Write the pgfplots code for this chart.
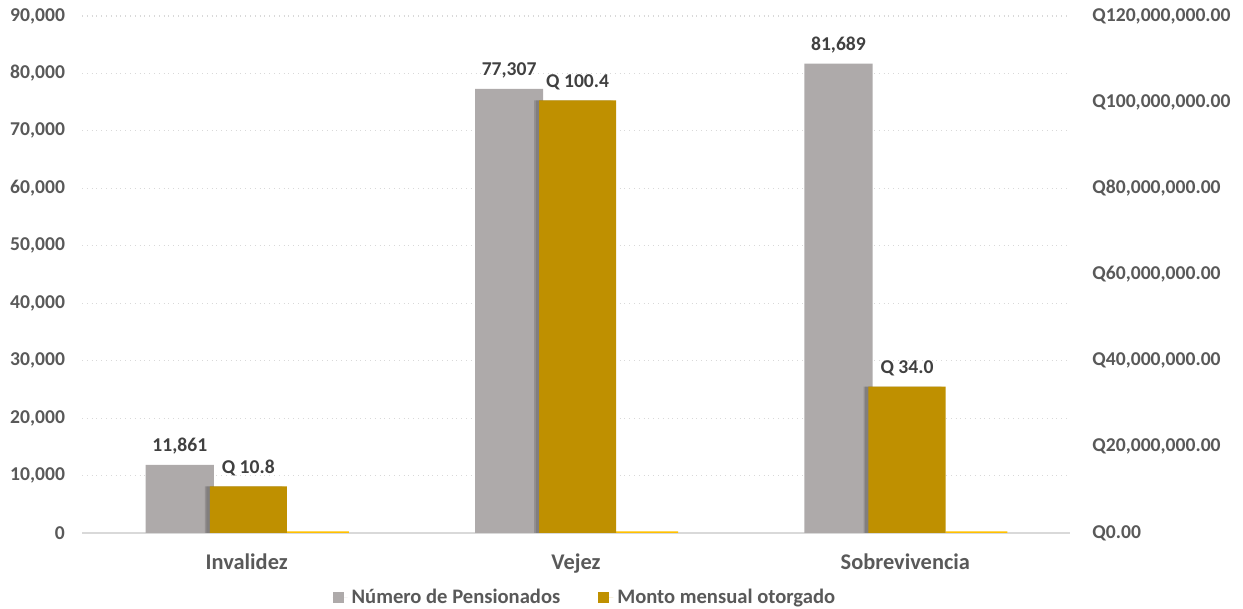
\documentclass[border=0pt]{standalone}
\usepackage{pgfplots}
\pgfplotsset{compat=1.18}
\usepackage{fontspec}
\setmainfont{Carlito}
\definecolor{graybar}{HTML}{AEAAAA}
\definecolor{goldbar}{HTML}{BF9000}
\definecolor{yellowbar}{HTML}{FFC000}
\definecolor{txt}{HTML}{595959}
\definecolor{lbl}{HTML}{404040}
\definecolor{gridc}{HTML}{D9D9D9}
\newcommand{\lblfont}{\fontsize{9.8}{12}\selectfont\bfseries}
\newcommand{\xfont}{\fontsize{11.2}{13}\selectfont\bfseries}
\newcommand{\legfont}{\fontsize{10.3}{12}\selectfont\bfseries}
\begin{document}
\begin{tikzpicture}
\path[use as bounding box] (0,0) rectangle (621.5pt,304.5pt);
\begin{axis}[
  at={(41pt,38pt)}, anchor=south west,
  scale only axis, width=494pt, height=258.5pt,
  xmin=-0.5, xmax=2.5, ymin=0, ymax=90000,
  scaled y ticks=false,
  axis x line*=bottom, axis y line*=left,
  x axis line style={draw=gridc, line width=1pt, -},
  y axis line style={draw=none},
  xtick={0,1,2}, xticklabels={Invalidez,Vejez,Sobrevivencia},
  ytick={0,10000,20000,30000,40000,50000,60000,70000,80000,90000},
  yticklabels={0,{10,000},{20,000},{30,000},{40,000},{50,000},{60,000},{70,000},{80,000},{90,000}},
  ymajorgrids, major grid style={dotted, draw=gridc, line width=0.6pt},
  major tick length=0pt, tick style={draw=none},
  ticklabel style={font=\lblfont, text=txt},
  yticklabel style={xshift=-5pt},
  xticklabel style={font=\xfont, yshift=-7pt},
  ybar,
  every node near coord/.append style={anchor=base, yshift=6.5pt, inner sep=0pt, font=\lblfont, text=lbl},
]
\addplot[fill=graybar, draw=none, bar width=0.207, bar shift=-0.203,
  nodes near coords, point meta=explicit symbolic] table[meta=lab] {
x y lab
0 11861 11,861
1 77307 77,307
2 81689 81,689
};
\addplot[fill=yellowbar, draw=none, bar width=0.188, bar shift=0.216] coordinates {(0,280) (1,280) (2,280)};
\end{axis}
\begin{axis}[
  at={(41pt,38pt)}, anchor=south west,
  scale only axis, width=494pt, height=258.5pt,
  xmin=-0.5, xmax=2.5, ymin=0, ymax=120,
  scaled y ticks=false,
  axis x line=none, axis y line*=right,
  y axis line style={draw=none},
  ytick={0,20,40,60,80,100,120},
  yticklabels={Q0.00,{Q20,000,000.00},{Q40,000,000.00},{Q60,000,000.00},{Q80,000,000.00},{Q100,000,000.00},{Q120,000,000.00}},
  major tick length=0pt, tick style={draw=none},
  ticklabel style={font=\lblfont, text=txt},
  yticklabel style={xshift=7.7pt},
  ybar,
  every node near coord/.append style={anchor=base, yshift=6.5pt, inner sep=0pt, font=\lblfont, text=lbl},
  legend style={at={(0.51,-0.125)}, anchor=center, draw=none, fill=none,
    legend columns=2, font=\legfont, text=txt,
    /tikz/every even column/.append style={column sep=17pt}},
  legend image code/.code={\fill[#1] (0pt,-2.75pt) rectangle (5.5pt,2.75pt); \path (0pt,0pt) -- (7.5pt,0pt);},
]
\addlegendimage{fill=graybar, draw=none}
\addlegendentry{Número de Pensionados}
\addplot[fill=black, fill opacity=0.12, draw=none, bar width=0.234, bar shift=-0.005, forget plot] coordinates {(0,10.8) (1,100.4) (2,34.0)};
\addplot[fill=black, fill opacity=0.15, draw=none, bar width=0.234, bar shift=-0.010, forget plot] coordinates {(0,10.8) (1,100.4) (2,34.0)};
\addplot[fill=goldbar, draw=none, bar width=0.234, bar shift=0.005,
  nodes near coords, point meta=explicit symbolic] table[meta=lab] {
x y lab
0 10.8 {Q 10.8}
1 100.4 {Q 100.4}
2 34.0 {Q 34.0}
};
\addlegendentry{Monto mensual otorgado}
\end{axis}
\end{tikzpicture}
\end{document}
